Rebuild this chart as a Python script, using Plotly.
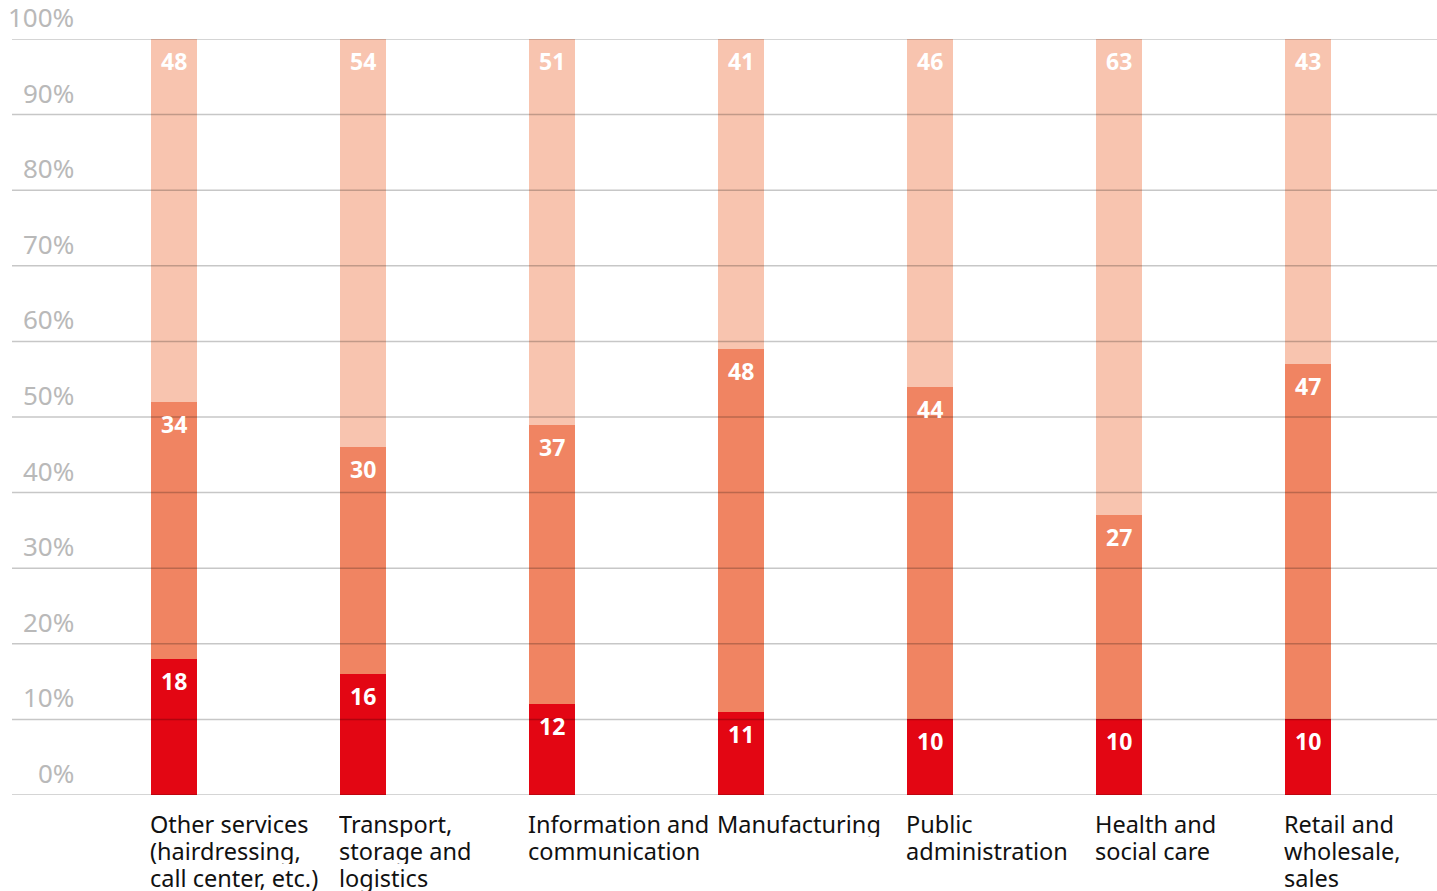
import plotly.graph_objects as go

categories = [
    "Other services<br>(hairdressing,<br>call center, etc.)",
    "Transport,<br>storage and<br>logistics",
    "Information and<br>communication",
    "Manufacturing",
    "Public<br>administration",
    "Health and<br>social care",
    "Retail and<br>wholesale,<br>sales",
]
bottom_vals = [18, 16, 12, 11, 10, 10, 10]
middle_vals = [34, 30, 37, 48, 44, 27, 47]
top_vals = [48, 54, 51, 41, 46, 63, 43]
tick_vals = [0, 10, 20, 30, 40, 50, 60, 70, 80, 90, 100]
tick_labels = [f"{v}%" for v in tick_vals]

colors = ["#e30613", "#f08462", "#f8c4af"]
series = [bottom_vals, middle_vals, top_vals]

FONT = "Noto Sans"
W, H = 1437, 891
ML, MR, MT, MB = 12, 0, 39, 96
BAR_W = 0.2434
xs = list(range(len(categories)))

fig = go.Figure()
for vals, col in zip(series, colors):
    fig.add_trace(go.Bar(
        x=xs, y=vals, width=BAR_W, marker=dict(color=col, line=dict(width=0)),
        hoverinfo="skip", showlegend=False,
    ))

annotations = []
# segment value labels
for i in xs:
    cum = 0
    for vals in series:
        cum += vals[i]
        annotations.append(dict(
            x=i, y=cum, xref="x", yref="y", text=f"<b>{vals[i]}</b>",
            showarrow=False, yanchor="top", yshift=-4,
            font=dict(family=FONT, size=23, color="white"),
        ))
# category labels, one annotation per line for tight line spacing
for i, c in enumerate(categories):
    for k, line in enumerate(c.split("<br>")):
        annotations.append(dict(
            x=i - BAR_W / 2, y=0, xref="x", yref="y", text=line, align="left",
            showarrow=False, xanchor="left", yanchor="middle", height=26,
            yshift=-29 - 27 * k, xshift=-3,
            font=dict(family=FONT, size=23.5, color="#111111"),
        ))
# y tick labels
plot_w = W - ML - MR
for v, t in zip(tick_vals, tick_labels):
    annotations.append(dict(
        x=(76 - ML) / plot_w, y=v, xref="paper", yref="y", text=t,
        showarrow=False, xanchor="right", yanchor="bottom", yshift=2,
        font=dict(family=FONT, size=26, color="#b9b9b9"),
    ))

shapes = [dict(type="line", xref="paper", yref="y", x0=0, x1=1, y0=v, y1=v,
               line=dict(color="rgba(0,0,0,0.22)", width=1.5), layer="above")
          for v in tick_vals]

fig.update_layout(
    width=W, height=H, margin=dict(l=ML, r=MR, t=MT, b=MB),
    barmode="stack", bargap=0, plot_bgcolor="white", paper_bgcolor="white",
    xaxis=dict(range=[-0.857, 6.683], showgrid=False, zeroline=False,
               showticklabels=False, ticks=""),
    yaxis=dict(range=[0, 100], showgrid=False, zeroline=False,
               showticklabels=False, ticks=""),
    annotations=annotations, shapes=shapes,
)
fig.write_html(
    "out.html",
    config={"displayModeBar": False},
    post_script="document.body.style.margin='0';document.body.style.overflow='hidden';",
)
